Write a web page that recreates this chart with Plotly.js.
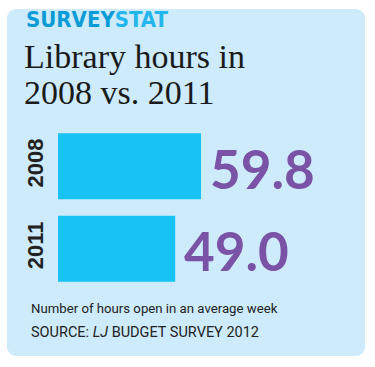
<!DOCTYPE html>
<html>
<head>
<meta charset="utf-8">
<script src="https://cdn.plot.ly/plotly-3.0.1.min.js"></script>
<style>
  html, body { margin: 0; padding: 0; background: #ffffff; }
  #wrap { position: relative; width: 375px; height: 367px; }
  #panel { position: absolute; left: 7px; top: 9px; width: 358px; height: 347px; background: #cdebfb; border-radius: 9px; }
  #chart { position: absolute; left: 0; top: 0; width: 375px; height: 367px; }
</style>
</head>
<body>
<div id="wrap">
  <div id="panel"></div>
  <div id="chart"></div>
</div>
<script>
// Data
const years = ["2008", "2011"];
const hours = [59.8, 49.0];
const valueLabels = ["59.8", "49.0"];
const brand1 = "SURVEY";
const brand2 = "STAT";
const titleLines = ["Library hours in", "2008 vs. 2011"];
const noteText = "Number of hours open in an average week";
const sourceText = "SOURCE: <i>LJ</i> BUDGET SURVEY 2012";

// Layout geometry (pixels)
const W = 375, H = 367;
const M = { l: 58, r: 30, t: 125, b: 77 };
const plotH = H - M.t - M.b;
function py(pixel) { return (H - M.b - pixel) / plotH; }
function px(pixel) { return (pixel - M.l) / (W - M.l - M.r); }

const yIdx = years.map((_, i) => i);

const trace = {
  type: "bar",
  orientation: "h",
  y: yIdx,
  x: hours,
  marker: { color: "#16c3f3", line: { width: 0 } },
  hoverinfo: "skip"
};

const annotations = [];
hours.forEach((v, i) => {
  annotations.push({
    x: v, y: yIdx[i], xref: "x", yref: "y",
    text: valueLabels[i], showarrow: false,
    xanchor: "left", yanchor: "middle", xshift: 7, yshift: -2,
    font: { family: "Lato, 'Open Sans', sans-serif", size: 53, color: "#7a52a6", weight: 700 }
  });
});

annotations.push({
  xref: "paper", yref: "paper", x: px(24), y: py(20),
  xanchor: "left", yanchor: "middle", showarrow: false,
  text: "<b><span style='color:#0b9bd7'>" + brand1 + "</span><span style='color:#22b6ec'>" + brand2 + "</span></b>",
  font: { family: "'Liberation Sans Narrow', 'DejaVu Sans Condensed', sans-serif", size: 22, color: "#0b9bd7" }
});
annotations.push({
  xref: "paper", yref: "paper", x: px(22), y: py(56),
  xanchor: "left", yanchor: "middle", showarrow: false,
  text: titleLines[0],
  font: { family: "'Liberation Serif', 'DejaVu Serif', serif", size: 34, color: "#1a1a1a" }
});
annotations.push({
  xref: "paper", yref: "paper", x: px(22), y: py(92),
  xanchor: "left", yanchor: "middle", showarrow: false,
  text: titleLines[1],
  font: { family: "'Liberation Serif', 'DejaVu Serif', serif", size: 34, color: "#1a1a1a" }
});
annotations.push({
  xref: "paper", yref: "paper", x: px(29), y: py(308),
  xanchor: "left", yanchor: "middle", showarrow: false,
  text: noteText,
  font: { family: "Roboto, 'Liberation Sans', sans-serif", size: 13.2, color: "#222222" }
});
annotations.push({
  xref: "paper", yref: "paper", x: px(29), y: py(332),
  xanchor: "left", yanchor: "middle", showarrow: false,
  text: sourceText,
  font: { family: "Roboto, 'Liberation Sans', sans-serif", size: 14.5, color: "#222222" }
});

const layout = {
  width: W, height: H,
  margin: M,
  paper_bgcolor: "rgba(0,0,0,0)",
  plot_bgcolor: "rgba(0,0,0,0)",
  showlegend: false,
  bargap: 0.2,
  xaxis: { range: [0, 120], visible: false, fixedrange: true },
  yaxis: {
    range: [yIdx.length - 0.5, -0.5],
    tickvals: yIdx, ticktext: years,
    showgrid: false, zeroline: false, showline: false, ticks: "",
    tickangle: -90, ticklabelstandoff: 10,
    tickfont: { family: "'Liberation Sans Narrow', 'Liberation Sans', sans-serif", size: 22, color: "#222222", weight: 700 },
    fixedrange: true
  },
  annotations: annotations
};

Plotly.newPlot("chart", [trace], layout, { displayModeBar: false, staticPlot: true });
</script>
</body>
</html>
